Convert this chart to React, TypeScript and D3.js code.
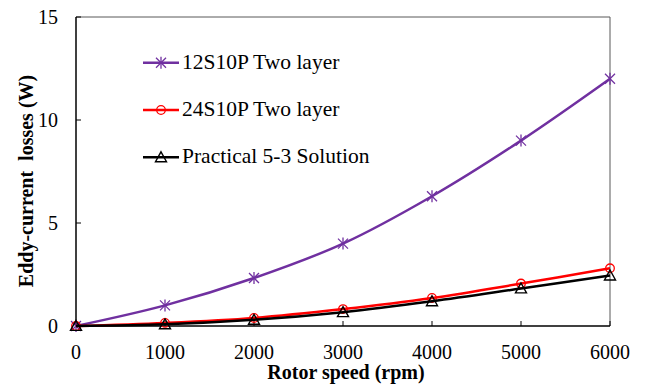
import React from 'react';
import * as d3 from 'd3';

// Eddy-current losses vs rotor speed, three winding layouts
const speeds = [0, 1000, 2000, 3000, 4000, 5000, 6000];
const twelveSlotTwoLayer = [0, 1.0, 2.33, 4.0, 6.3, 9.0, 12.0];
const twentyFourSlotTwoLayer = [0, 0.15, 0.39, 0.82, 1.36, 2.06, 2.8];
const practicalSolution = [0, 0.08, 0.3, 0.67, 1.2, 1.82, 2.45];
const xTicks = [0, 1000, 2000, 3000, 4000, 5000, 6000];
const yTicks = [0, 5, 10, 15];

const W = 647;
const H = 385;
const margin = { left: 76, right: 37, top: 17, bottom: 59 };

const series = [
  { name: '12S10P Two layer', values: twelveSlotTwoLayer, color: '#7030A0', marker: 'star' },
  { name: '24S10P Two layer', values: twentyFourSlotTwoLayer, color: '#FF0000', marker: 'circle' },
  { name: 'Practical 5-3 Solution', values: practicalSolution, color: '#000000', marker: 'triangle' },
];

function Marker({ kind, x, y, color }: { kind: string; x: number; y: number; color: string }) {
  if (kind === 'star') {
    const s = 5;
    return (
      <g stroke={color} strokeWidth={1.3}>
        <line x1={x - s} y1={y - s} x2={x + s} y2={y + s} />
        <line x1={x - s} y1={y + s} x2={x + s} y2={y - s} />
        <line x1={x} y1={y - s - 1} x2={x} y2={y + s + 1} />
      </g>
    );
  }
  if (kind === 'circle') {
    return <circle cx={x} cy={y} r={4.3} fill="none" stroke={color} strokeWidth={1.3} />;
  }
  const s = 5.5;
  return (
    <path
      d={`M${x},${y - s}L${x + s},${y + s * 0.8}L${x - s},${y + s * 0.8}Z`}
      fill="none"
      stroke={color}
      strokeWidth={1.4}
    />
  );
}

function Label(props: any) {
  const { children, style, ...rest } = props;
  return (
    <text {...rest} style={{ fontFamily: 'Liberation Serif', ...style }}>
      {children}
    </text>
  );
}

export default function App() {
  const x = d3.scaleLinear().domain([0, 6000]).range([margin.left, W - margin.right]);
  const y = d3.scaleLinear().domain([0, 15]).range([H - margin.bottom, margin.top]);

  const line = d3
    .line<[number, number]>()
    .x((d) => x(d[0]))
    .y((d) => y(d[1]))
    .curve(d3.curveCatmullRom.alpha(0.5));

  const x0 = x(0);
  const x1 = x(6000);
  const y0 = y(0);
  const y1 = y(15);

  return (
    <div style={{ position: 'absolute', left: 0, top: 0, fontFamily: 'Liberation Serif' }}>
      <svg width={W} height={H}>
        <rect width={W} height={H} fill="#fff" />
        {/* frame: top and right in grey */}
        <line x1={x0} y1={y1} x2={x1} y2={y1} stroke="#595959" strokeWidth={1} />
        <line x1={x1} y1={y1} x2={x1} y2={y0} stroke="#595959" strokeWidth={1} />

        {/* y ticks and labels */}
        {yTicks.map((t) => (
          <g key={'y' + t}>
            <line x1={x0} x2={x0 + 5} y1={y(t)} y2={y(t)} stroke="#000" />
            <Label x={58} y={y(t) + 6.6} textAnchor="end" fontSize={20}>
              {String(t)}
            </Label>
          </g>
        ))}

        {/* x ticks and labels */}
        {xTicks.map((t) => (
          <g key={'x' + t}>
            <line x1={x(t)} x2={x(t)} y1={y0} y2={y0 - 5} stroke="#000" />
            <Label x={x(t)} y={359} textAnchor="middle" fontSize={20}>
              {String(t)}
            </Label>
          </g>
        ))}

        {/* axes */}
        <line x1={x0} y1={y1} x2={x0} y2={y0} stroke="#000" strokeWidth={1.5} />
        <line x1={x0} y1={y0} x2={x1} y2={y0} stroke="#000" strokeWidth={1.5} />

        {/* series */}
        {series.map((s) => {
          const pts = speeds.map((v, i) => [v, s.values[i]] as [number, number]);
          return (
            <g key={s.name}>
              <path d={line(pts) || ''} fill="none" stroke={s.color} strokeWidth={2.5} />
              {pts.map((p, i) => (
                <Marker key={i} kind={s.marker} x={x(p[0])} y={y(p[1])} color={s.color} />
              ))}
            </g>
          );
        })}

        {/* legend */}
        {series.map((s, i) => {
          const ly = 62.7 + i * 47.3;
          return (
            <g key={'lg' + s.name}>
              <line x1={143} x2={179} y1={ly} y2={ly} stroke={s.color} strokeWidth={2.5} />
              <Marker kind={s.marker} x={161} y={ly} color={s.color} />
              <Label x={182} y={ly + 6} fontSize={21.5}>
                {s.name}
              </Label>
            </g>
          );
        })}

        {/* axis titles */}
        <Label x={346} y={379} textAnchor="middle" fontSize={20} fontWeight="bold">
          Rotor speed (rpm)
        </Label>
        <Label
          transform="translate(33,181) rotate(-90)"
          textAnchor="middle"
          fontSize={20}
          fontWeight="bold"
        >
          {'Eddy-current\u00a0 losses (W)'}
        </Label>
      </svg>
    </div>
  );
}
